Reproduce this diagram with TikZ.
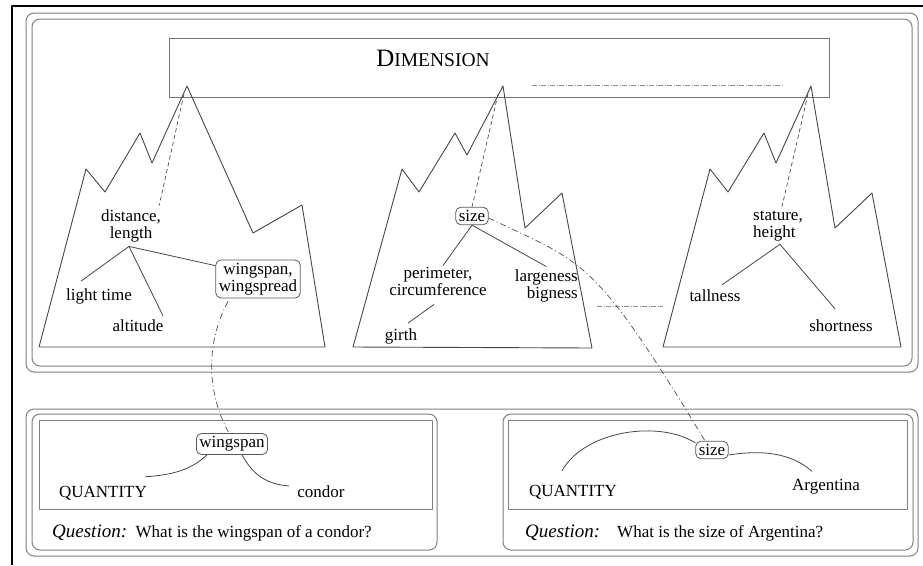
\documentclass[tikz,border=0pt]{standalone}
\usepackage{fontspec}
\setmainfont{Liberation Serif}
\begin{document}
\begin{tikzpicture}[x=1pt,y=-1pt,line join=round,
  mtn/.style={draw=black!72,line width=0.9pt},
  lbl/.style={font=\fontsize{17}{17}\selectfont,inner sep=1pt,align=center},
  rbox/.style={lbl,draw=black!65,rounded corners=5pt,inner xsep=3pt,inner ysep=3pt,line width=0.8pt},
  tree/.style={draw=black!72,line width=0.8pt},
  frame/.style={draw=black!50,line width=1pt,rounded corners=8pt},
  plainbox/.style={draw=black!50,line width=1pt},
  link/.style={draw=black!70,line width=0.7pt,dash pattern=on 6pt off 3pt on 1pt off 3pt},
  faint/.style={draw=black!45,line width=0.6pt,dash pattern=on 5pt off 1.5pt on 1pt off 1.5pt},
  peakline/.style={draw=black!70,line width=0.7pt,dash pattern=on 4pt off 3pt},
  qline/.style={anchor=base west,inner sep=0pt}
]
\useasboundingbox (0,0) rectangle (923,565);
% outer black frame (top and left)
\draw[line width=2.5pt] (12,565) -- (12,6) -- (923,6);

% panels
\draw[frame] (26,13) rectangle (918,372);
\draw[frame] (32,19) rectangle (912,366);
\draw[frame] (26,409) rectangle (918,556);
\draw[frame] (32,414) rectangle (437,550);
\draw[frame] (503,414) rectangle (913,550);
\draw[plainbox] (39,420) rectangle (432,509);
\draw[plainbox] (508,420) rectangle (907,509);

% dimension box
\node[draw=black!55,line width=1pt,minimum width=660pt,minimum height=59pt,inner sep=0pt] (dimbox) at (499,67.5) {};
\node[inner sep=0pt] (dim) at (433,58) {\fontsize{25}{25}\selectfont D\fontsize{19.5}{19.5}\selectfont IMENSION};
\coordinate (fa1) at (532,85);
\coordinate (fa2) at (783,85);
\draw[faint] (fa1) -- (fa2);

% mountains
\draw[mtn] (39,347) -- (86,169) -- (105,192) -- (140,133) -- (152,163) -- (187,86) -- (253,233) -- (302,205) -- (325,347) -- cycle;
\draw[mtn] (353,347) -- (402,169) -- (419,192) -- (455,133) -- (467,155) -- (503,86) -- (525,228) -- (562,193) -- (592,348) -- cycle;
\draw[mtn] (663,347) -- (710,169) -- (728,192) -- (764,133) -- (776,163) -- (811,86) -- (835,228) -- (872,193) -- (901,347) -- cycle;
\coordinate (pk1) at (184,94);
\coordinate (pk2) at (498,94);
\coordinate (pk3) at (808,94);

% left mountain labels
\node[lbl] (dl) at (131,226) {distance,\\length};
\node[lbl] (lt) at (99,296) {light time};
\node[lbl] (alt) at (138,326) {altitude};
\node[rbox] (ws) at (258,279) {wingspan,\\wingspread};

% middle mountain labels
\node[rbox] (size) at (472,216) {size};
\node[lbl] (pc) at (438,281) {perimeter,\\circumference};
\node[lbl,align=right,anchor=east] (lb) at (579,286) {largeness\\bigness};
\node[lbl] (girth) at (401,336) {girth};

% right mountain labels
\node[lbl,align=left,anchor=west] (sh) at (752,226) {stature,\\height};
\node[lbl] (tall) at (715,296) {tallness};
\node[lbl] (short) at (841,326) {shortness};

\coordinate (fb1) at (597,306);
\coordinate (fb2) at (663,306);
\draw[faint] (fb1) -- (fb2);

% peak dashed lines
\draw[peakline] (pk1) -- ([shift={(-3,-3)}]dl.north east);
\draw[peakline] (pk2) -- (size.north);
\draw[peakline] (pk3) -- ([shift={(4,-3)}]sh.north);

% tree lines
\coordinate (dlr) at ([shift={(-2,3)}]dl.south);
\draw[tree] (dlr) -- ([shift={(-18,-6)}]lt.north);
\draw[tree] (dlr) -- ([shift={(25,-3)}]alt.north);
\draw[tree] (dlr) -- ([shift={(0,6)}]ws.north west);
\draw[tree] (size.south) -- ([shift={(5,0)}]pc.north);
\draw[tree] (size.south) -- ([shift={(0,-2)}]lb.north);
\draw[tree] ([shift={(7,-4)}]girth.north) -- ([shift={(-4,8)}]pc.south);
\coordinate (shr) at ([shift={(2,2)}]sh.south);
\draw[tree] (shr) -- ([shift={(7,-4)}]tall.north);
\draw[tree] (shr) -- ([shift={(-6,-10)}]short.north);

% lower left
\node[rbox] (wsp) at (232,444) {wingspan};
\node[lbl] (q1) at (103,493) {QUANTITY};
\node[lbl] (cond) at (321,492) {condor};
\draw[tree] ([shift={(-25,0)}]wsp.south) .. controls +(-15,14) and +(30,-2) .. ([shift={(-3,-8)}]q1.north east);
\draw[tree] ([shift={(10,0)}]wsp.south) .. controls +(10,18) and +(-25,-2) .. ([shift={(-7,-6)}]cond.west);
\node[qline] (qa) at (52,537) {\fontsize{19}{19}\selectfont\itshape Question:\hspace{0.45em}\upshape\fontsize{17}{17}\selectfont What is the wingspan of a condor?};

% lower right
\node[rbox] (sz2) at (712,450) {size};
\node[lbl] (q2) at (573,492) {QUANTITY};
\node[lbl] (arg) at (826,487) {Argentina};
\draw[tree] ([shift={(-11,-13)}]q2.north) .. controls (585,430) and (660,420) .. ([shift={(0,-7)}]sz2.west);
\draw[tree] ([shift={(0,5)}]sz2.east) .. controls (760,450) and (790,452) .. ([shift={(-14,-7)}]arg.north);
\node[qline] (qb) at (525,537) {\fontsize{19}{19}\selectfont\itshape Question:\hspace{0.9em}\upshape\fontsize{17}{17}\selectfont What is the size of Argentina?};

% cross links
\draw[link] ([shift={(-30,3)}]ws.south) .. controls (207,340) and (205,390) .. ([shift={(-3,0)}]wsp.north);
\draw[link] ([shift={(0,2)}]size.east) .. controls (585,264) and (593,256) .. ([shift={(-7,0)}]sz2.north);
\end{tikzpicture}
\end{document}
